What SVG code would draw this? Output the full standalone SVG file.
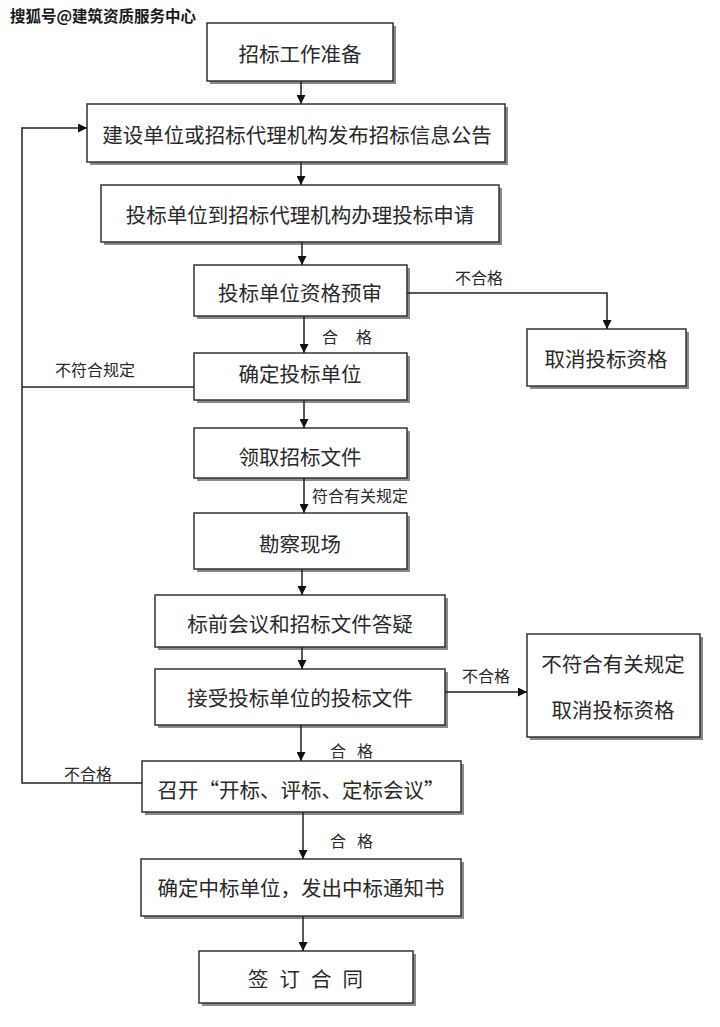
<svg xmlns="http://www.w3.org/2000/svg" width="720" height="1027" viewBox="0 0 720 1027">
<defs>
<marker id="ah" viewBox="0 0 10 10" refX="10" refY="5" markerWidth="9" markerHeight="9" markerUnits="userSpaceOnUse" orient="auto">
<path d="M0,0 L10,5 L0,10 z" fill="#111"/>
</marker>
</defs>
<style>
.sh{fill:#8a8a8a;}
.bx{fill:#fff;stroke:#333;stroke-width:1.5;}
.t{font-family:"Noto Sans CJK SC","Noto Sans CJK JP",sans-serif;font-size:20.5px;fill:#2a2a2a;text-anchor:middle;dominant-baseline:central;}
.l{font-family:"Noto Sans CJK SC","Noto Sans CJK JP",sans-serif;font-size:16px;fill:#2a2a2a;dominant-baseline:central;}
.c{fill:none;stroke:#222;stroke-width:1.5;}
.wm{font-family:"Noto Sans CJK SC",sans-serif;font-size:15.5px;font-weight:bold;fill:#1a1a1a;stroke:#fff;stroke-width:0.6;paint-order:stroke;dominant-baseline:central;}
</style>
<rect width="720" height="1027" fill="#fff"/>
<text class="wm" x="10" y="15">搜狐号@建筑资质服务中心</text>

<g id="n1"><rect class="sh" x="210" y="26" width="186" height="58"/><rect class="bx" x="207" y="23" width="186" height="58"/><text class="t" x="300" y="53">招标工作准备</text></g>
<g id="n2"><rect class="sh" x="90" y="107" width="418" height="58"/><rect class="bx" x="87" y="104" width="418" height="58"/><text class="t" x="297" y="134">建设单位或招标代理机构发布招标信息公告</text></g>
<g id="n3"><rect class="sh" x="104" y="188" width="398" height="57"/><rect class="bx" x="101" y="185" width="398" height="57"/><text class="t" x="300" y="214">投标单位到招标代理机构办理投标申请</text></g>
<g id="n4"><rect class="sh" x="197" y="268" width="213" height="51"/><rect class="bx" x="194" y="265" width="213" height="51"/><text class="t" x="300" y="292">投标单位资格预审</text></g>
<g id="n5"><rect class="sh" x="530" y="332" width="159" height="57"/><rect class="bx" x="527" y="329" width="159" height="57"/><text class="t" x="606" y="358">取消投标资格</text></g>
<g id="n6"><rect class="sh" x="197" y="356" width="213" height="47"/><rect class="bx" x="194" y="353" width="213" height="47"/><text class="t" x="300" y="373">确定投标单位</text></g>
<g id="n7"><rect class="sh" x="197" y="431" width="213" height="50"/><rect class="bx" x="194" y="428" width="213" height="50"/><text class="t" x="300" y="456">领取招标文件</text></g>
<g id="n8"><rect class="sh" x="197" y="516" width="213" height="56"/><rect class="bx" x="194" y="513" width="213" height="56"/><text class="t" x="300" y="543">勘察现场</text></g>
<g id="n9"><rect class="sh" x="158" y="598" width="290" height="52"/><rect class="bx" x="155" y="595" width="290" height="52"/><text class="t" x="300" y="623">标前会议和招标文件答疑</text></g>
<g id="n10"><rect class="sh" x="158" y="672" width="290" height="56"/><rect class="bx" x="155" y="669" width="290" height="56"/><text class="t" x="300" y="697">接受投标单位的投标文件</text></g>
<g id="n11"><rect class="sh" x="530" y="637" width="173" height="103"/><rect class="bx" x="527" y="634" width="173" height="103"/><text class="t" x="613" y="663">不符合有关规定</text><text class="t" x="613" y="709">取消投标资格</text></g>
<g id="n12"><rect class="sh" x="145" y="764" width="319" height="51"/><rect class="bx" x="142" y="761" width="319" height="51"/><text class="t" x="301" y="789">召开“开标、评标、定标会议”</text></g>
<g id="n13"><rect class="sh" x="144" y="862" width="320" height="57"/><rect class="bx" x="141" y="859" width="320" height="57"/><text class="t" x="301" y="887">确定中标单位，发出中标通知书</text></g>
<g id="n14"><rect class="sh" x="202" y="954" width="214" height="52"/><rect class="bx" x="199" y="951" width="214" height="52"/><text class="t" x="311" y="978" letter-spacing="11">签订合同</text></g>

<g id="connectors">
<line class="c" x1="301" y1="81" x2="301" y2="104" marker-end="url(#ah)"/>
<line class="c" x1="301" y1="162" x2="301" y2="185" marker-end="url(#ah)"/>
<line class="c" x1="302" y1="242" x2="302" y2="265" marker-end="url(#ah)"/>
<line class="c" x1="304" y1="316" x2="304" y2="353" marker-end="url(#ah)"/>
<polyline class="c" points="407,293 607,293 607,329" marker-end="url(#ah)"/>
<line class="c" x1="304" y1="400" x2="304" y2="428" marker-end="url(#ah)"/>
<line class="c" x1="304" y1="478" x2="304" y2="513" marker-end="url(#ah)"/>
<line class="c" x1="302" y1="569" x2="302" y2="595" marker-end="url(#ah)"/>
<line class="c" x1="302" y1="647" x2="302" y2="669" marker-end="url(#ah)"/>
<line class="c" x1="445" y1="692" x2="527" y2="692" marker-end="url(#ah)"/>
<line class="c" x1="301" y1="725" x2="301" y2="761" marker-end="url(#ah)"/>
<line class="c" x1="303" y1="812" x2="303" y2="859" marker-end="url(#ah)"/>
<line class="c" x1="303" y1="916" x2="303" y2="951" marker-end="url(#ah)"/>
<polyline class="c" points="142,783 22,783 22,128 87,128" marker-end="url(#ah)"/>
<line class="c" x1="194" y1="387" x2="22" y2="387"/>
<text class="l" x="455" y="277">不合格</text>
<text class="l" x="322" y="336" letter-spacing="18">合格</text>
<text class="l" x="55" y="369">不符合规定</text>
<text class="l" x="312" y="495">符合有关规定</text>
<text class="l" x="462" y="675">不合格</text>
<text class="l" x="330" y="750" letter-spacing="11">合格</text>
<text class="l" x="64" y="773">不合格</text>
<text class="l" x="330" y="840" letter-spacing="11">合格</text>
</g>
</svg>
